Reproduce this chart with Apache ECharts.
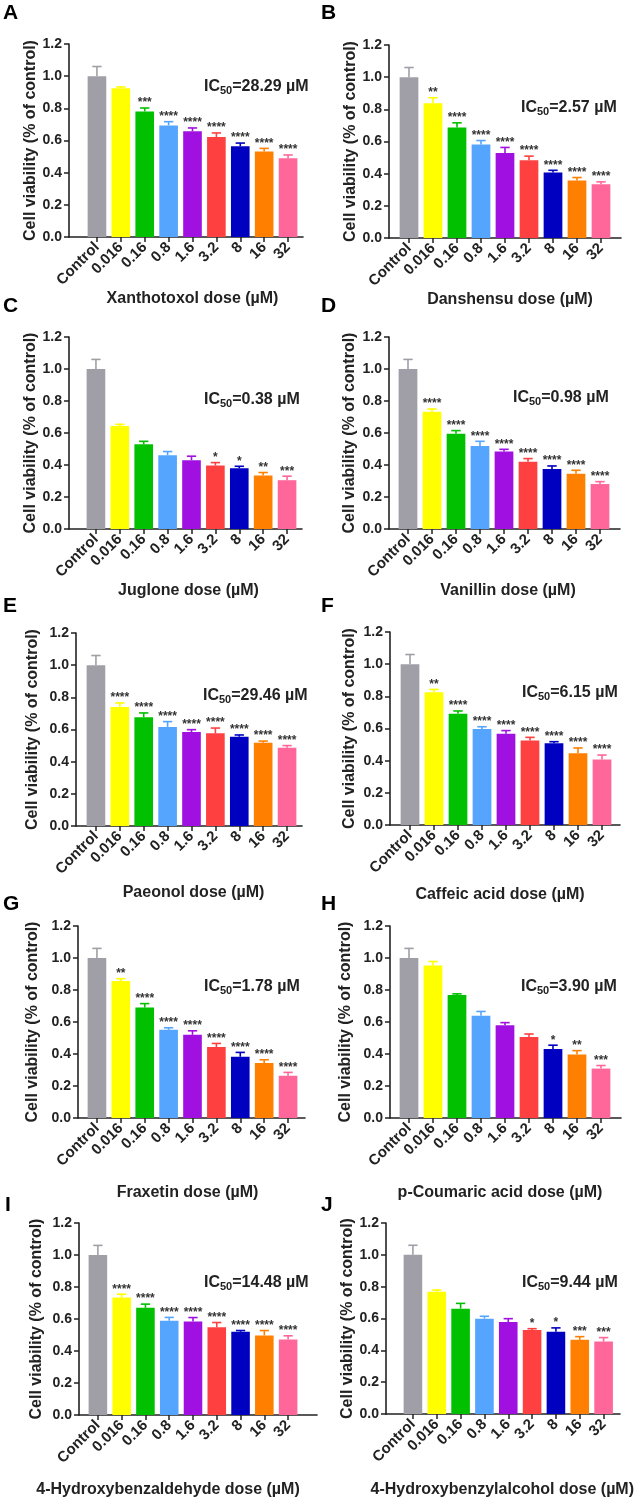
<!DOCTYPE html>
<html>
<head>
<meta charset="utf-8">
<script src="https://cdn.jsdelivr.net/npm/echarts@6/dist/echarts.min.js"></script>
<style>
  html, body { margin: 0; padding: 0; background: #fff; }
  #chart { width: 636px; height: 1500px; }
</style>
</head>
<body>
<div id="chart"></div>
<script>
// x categories (dose, µM)
const doses = ['Control', '0.016', '0.16', '0.8', '1.6', '3.2', '8', '16', '32'];
const yTicks = [0, 0.2, 0.4, 0.6, 0.8, 1.0, 1.2];

// A - Xanthotoxol
const xanthotoxolMean = [1.0, 0.925, 0.781, 0.694, 0.657, 0.622, 0.564, 0.531, 0.489];
const xanthotoxolErr = [0.06, 0.008, 0.021, 0.023, 0.021, 0.025, 0.02, 0.02, 0.021];
const xanthotoxolSig = ['', '', '***', '****', '****', '****', '****', '****', '****'];
// B - Danshensu
const danshensuMean = [1.0, 0.838, 0.687, 0.581, 0.529, 0.484, 0.407, 0.357, 0.334];
const danshensuErr = [0.06, 0.034, 0.029, 0.025, 0.034, 0.025, 0.014, 0.019, 0.015];
const danshensuSig = ['', '**', '****', '****', '****', '****', '****', '****', '****'];
// C - Juglone
const jugloneMean = [1.0, 0.644, 0.529, 0.461, 0.43, 0.397, 0.38, 0.334, 0.305];
const jugloneErr = [0.06, 0.01, 0.019, 0.023, 0.025, 0.018, 0.012, 0.019, 0.025];
const jugloneSig = ['', '', '', '', '', '*', '*', '**', '***'];
// D - Vanillin
const vanillinMean = [1.0, 0.733, 0.596, 0.519, 0.485, 0.421, 0.375, 0.346, 0.281];
const vanillinErr = [0.06, 0.017, 0.019, 0.029, 0.013, 0.019, 0.019, 0.021, 0.015];
const vanillinSig = ['', '****', '****', '****', '****', '****', '****', '****', '****'];
// E - Paeonol
const paeonolMean = [1.0, 0.74, 0.676, 0.616, 0.584, 0.576, 0.555, 0.518, 0.487];
const paeonolErr = [0.06, 0.025, 0.027, 0.033, 0.015, 0.033, 0.011, 0.01, 0.013];
const paeonolSig = ['', '****', '****', '****', '****', '****', '****', '****', '****'];
// F - Caffeic acid
const caffeicMean = [1.0, 0.825, 0.692, 0.597, 0.568, 0.526, 0.508, 0.446, 0.408];
const caffeicErr = [0.06, 0.018, 0.017, 0.014, 0.019, 0.019, 0.01, 0.033, 0.027];
const caffeicSig = ['', '**', '****', '****', '****', '****', '****', '****', '****'];
// G - Fraxetin
const fraxetinMean = [1.0, 0.857, 0.69, 0.551, 0.52, 0.443, 0.383, 0.343, 0.264];
const fraxetinErr = [0.06, 0.014, 0.025, 0.013, 0.025, 0.023, 0.027, 0.021, 0.021];
const fraxetinSig = ['', '**', '****', '****', '****', '****', '****', '****', '****'];
// H - p-Coumaric acid
const coumaricMean = [1.0, 0.953, 0.768, 0.639, 0.579, 0.507, 0.432, 0.397, 0.309];
const coumaricErr = [0.06, 0.025, 0.008, 0.027, 0.017, 0.018, 0.023, 0.024, 0.019];
const coumaricSig = ['', '', '', '', '', '', '*', '**', '***'];
// I - 4-Hydroxybenzaldehyde
const hbaldMean = [1.0, 0.734, 0.67, 0.589, 0.584, 0.549, 0.52, 0.497, 0.472];
const hbaldErr = [0.06, 0.021, 0.023, 0.021, 0.025, 0.029, 0.008, 0.031, 0.023];
const hbaldSig = ['', '****', '****', '****', '****', '****', '****', '****', '****'];
// J - 4-Hydroxybenzylalcohol
const hbalcMean = [1.0, 0.768, 0.662, 0.599, 0.578, 0.528, 0.516, 0.466, 0.455];
const hbalcErr = [0.06, 0.011, 0.033, 0.015, 0.021, 0.008, 0.025, 0.02, 0.025];
const hbalcSig = ['', '', '', '', '', '*', '*', '***', '***'];

const panelLetters = ['A', 'B', 'C', 'D', 'E', 'F', 'G', 'H', 'I', 'J'];
const xNames = ['Xanthotoxol dose (µM)', 'Danshensu dose (µM)', 'Juglone dose (µM)', 'Vanillin dose (µM)',
  'Paeonol dose (µM)', 'Caffeic acid dose (µM)', 'Fraxetin dose (µM)', 'p-Coumaric acid dose (µM)',
  '4-Hydroxybenzaldehyde dose (µM)', '4-Hydroxybenzylalcohol dose (µM)'];
const ic50 = ['28.29', '2.57', '0.38', '0.98', '29.46', '6.15', '1.78', '3.90', '14.48', '9.44'];

const barColors = ['#a09fa7', '#ffff00', '#00c000', '#55a5ff', '#a010e0', '#ff4040', '#0000c0', '#ff8000', '#ff6699'];

const panelData = [
  [xanthotoxolMean, xanthotoxolErr, xanthotoxolSig],
  [danshensuMean, danshensuErr, danshensuSig],
  [jugloneMean, jugloneErr, jugloneSig],
  [vanillinMean, vanillinErr, vanillinSig],
  [paeonolMean, paeonolErr, paeonolSig],
  [caffeicMean, caffeicErr, caffeicSig],
  [fraxetinMean, fraxetinErr, fraxetinSig],
  [coumaricMean, coumaricErr, coumaricSig],
  [hbaldMean, hbaldErr, hbaldSig],
  [hbalcMean, hbalcErr, hbalcSig]
];

// layout per panel: y-axis x, bar band left/right, x-axis end, top (1.2), bottom (0),
// x name gap / shift, y name gap, letter pos, IC50 pos
const layout = [
  { ax: 69, bl: 85, br: 300, ex: 303, top: 44, bot: 237, xg: 48, xs: 0, yg: 28, let: [3, 3], ic: [204, 87] },
  { ax: 389, bl: 397, br: 613, ex: 621, top: 45, bot: 238, xg: 49, xs: 5, yg: 30, let: [321, 3], ic: [521, 108] },
  { ax: 69, bl: 84, br: 299, ex: 302, top: 337, bot: 529, xg: 53, xs: -3, yg: 28, let: [3, 296], ic: [204, 400] },
  { ax: 389, bl: 396, br: 612, ex: 620, top: 337, bot: 529, xg: 53, xs: 4, yg: 31, let: [321, 296], ic: [513, 398] },
  { ax: 76, bl: 84, br: 299, ex: 302, top: 633, bot: 826, xg: 59, xs: 2, yg: 35, let: [3, 596], ic: [203, 696] },
  { ax: 390, bl: 398, br: 614, ex: 620, top: 632, bot: 825, xg: 62, xs: -6, yg: 32, let: [321, 596], ic: [522, 693] },
  { ax: 78, bl: 85, br: 300, ex: 305, top: 926, bot: 1118, xg: 67, xs: -5, yg: 37, let: [3, 894], ic: [204, 987] },
  { ax: 390, bl: 397, br: 613, ex: 621, top: 926, bot: 1118, xg: 67, xs: -5, yg: 36, let: [321, 894], ic: [521, 987] },
  { ax: 79, bl: 86, br: 300, ex: 317, top: 1223, bot: 1415, xg: 67, xs: -25, yg: 34, let: [5, 1195], ic: [204, 1283] },
  { ax: 386, bl: 401, br: 617, ex: 620, top: 1223, bot: 1414, xg: 68, xs: -6, yg: 27, let: [321, 1195], ic: [522, 1283] }
];

const FONT = 'Arial, "Liberation Sans", Helvetica, sans-serif';
const INK = '#222';

const grid = [], xAxis = [], yAxis = [], series = [], title = [];

layout.forEach((L, p) => {
  const [mean, err, sig] = panelData[p];
  const h = L.bot - L.top;
  const frame = p * 2, bars = p * 2 + 1;

  // frame grid: y axis + full-width x axis line
  grid.push({ left: L.ax, top: L.top, width: L.ex - L.ax, height: h });
  // bar grid: category band
  grid.push({ left: L.bl, top: L.top, width: L.br - L.bl, height: h });

  xAxis.push({
    gridIndex: frame, type: 'value', min: 0, max: 1,
    axisLine: { show: true, lineStyle: { color: INK, width: 1.6 } },
    axisTick: { show: false }, axisLabel: { show: false }, splitLine: { show: false }
  });
  xAxis.push({
    gridIndex: bars, type: 'category', data: doses,
    axisLine: { show: false },
    axisTick: { show: true, alignWithLabel: true, length: 5, lineStyle: { color: INK, width: 1.5 } },
    axisLabel: { interval: 0, rotate: 45, margin: 8, color: INK, fontFamily: FONT, fontWeight: 'bold', fontSize: 15 },
    name: xNames[p], nameLocation: 'middle', nameGap: L.xg,
    nameTextStyle: {
      color: INK, fontFamily: FONT, fontWeight: 'bold', fontSize: 16,
      padding: L.xs >= 0 ? [0, 0, 0, 2 * L.xs] : [0, -2 * L.xs, 0, 0]
    }
  });

  yAxis.push({
    gridIndex: frame, type: 'value', min: yTicks[0], max: yTicks[yTicks.length - 1], interval: 0.2,
    axisLine: { show: true, lineStyle: { color: INK, width: 1.6 } },
    axisTick: { show: true, length: 5, lineStyle: { color: INK, width: 1.5 } },
    axisLabel: { margin: 7, color: INK, fontFamily: FONT, fontWeight: 'bold', fontSize: 14, formatter: v => v.toFixed(1) },
    splitLine: { show: false },
    name: 'Cell viability (% of control)', nameLocation: 'middle', nameGap: L.yg,
    nameTextStyle: { color: INK, fontFamily: FONT, fontWeight: 'bold', fontSize: 16 }
  });
  yAxis.push({ gridIndex: bars, type: 'value', min: 0, max: 1.2, show: false });

  series.push({
    type: 'bar', xAxisIndex: bars, yAxisIndex: bars, barWidth: '78%',
    data: mean.map((v, i) => ({ value: v, itemStyle: { color: barColors[i] } })),
    silent: true, animation: false
  });

  series.push({
    type: 'custom', xAxisIndex: bars, yAxisIndex: bars, z: 3, silent: true, animation: false,
    data: mean.map((v, i) => [i, v, err[i]]),
    renderItem: (params, api) => {
      const i = api.value(0), m = api.value(1), e = api.value(2);
      const base = api.coord([i, m]);
      const top = api.coord([i, m + e]);
      const bw = api.size([1, 0])[0] * 0.78;
      const cap = bw * 0.5;
      const c = barColors[i];
      return {
        type: 'group',
        children: [
          { type: 'line', shape: { x1: base[0], y1: base[1], x2: top[0], y2: top[1] }, style: { stroke: c, lineWidth: 1.6 } },
          { type: 'line', shape: { x1: top[0] - cap / 2, y1: top[1], x2: top[0] + cap / 2, y2: top[1] }, style: { stroke: c, lineWidth: 1.6 } },
          { type: 'text', style: { text: sig[params.dataIndex], x: top[0], y: top[1] + 1, align: 'center', verticalAlign: 'bottom', font: 'bold 12px ' + FONT, fill: '#333' } }
        ]
      };
    }
  });

  title.push({
    text: panelLetters[p], left: L.let[0], top: L.let[1], padding: 0,
    textStyle: { color: '#000', fontFamily: FONT, fontWeight: 'bold', fontSize: 21 }
  });
  title.push({
    text: '{a|IC}{b|50}{a|=' + ic50[p] + ' µM}', left: L.ic[0], top: L.ic[1] - 11, padding: 0,
    textStyle: {
      rich: {
        a: { color: INK, fontFamily: FONT, fontWeight: 'bold', fontSize: 16, lineHeight: 22 },
        b: { color: INK, fontFamily: FONT, fontWeight: 'bold', fontSize: 11, lineHeight: 22, padding: [8, 0, 0, 0] }
      }
    }
  });
});

const chart = echarts.init(document.getElementById('chart'), null, { renderer: 'canvas' });
chart.setOption({ animation: false, backgroundColor: '#fff', title, grid, xAxis, yAxis, series });
</script>
</body>
</html>
